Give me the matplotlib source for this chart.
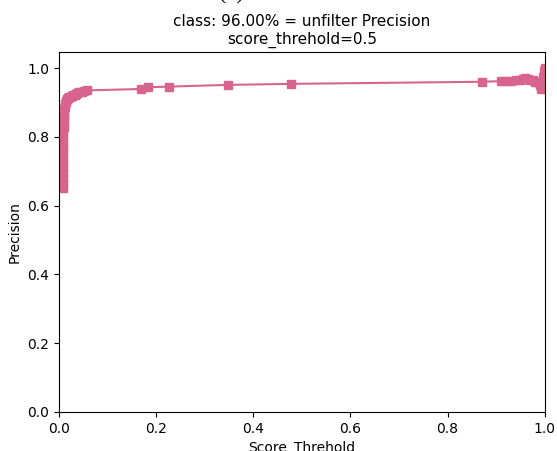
import numpy as np
import matplotlib.pyplot as plt

# score threshold vs precision for the class
thresholds = [0.008, 0.008, 0.008, 0.008, 0.008, 0.009, 0.009, 0.009, 0.009, 0.009,
              0.009, 0.009, 0.010, 0.010, 0.010, 0.011, 0.011, 0.012, 0.013, 0.014,
              0.015, 0.017, 0.019, 0.021, 0.023, 0.026, 0.029, 0.032, 0.035, 0.038,
              0.042, 0.047, 0.052, 0.058,
              0.168, 0.183, 0.226, 0.347, 0.478, 0.871,
              0.910, 0.920, 0.930, 0.940, 0.950, 0.955, 0.960, 0.965, 0.970, 0.975,
              0.980, 0.985, 0.990, 0.993, 0.996, 0.998, 1.000]
precision = [0.650, 0.665, 0.680, 0.695, 0.710, 0.725, 0.740, 0.755, 0.770, 0.785,
             0.800, 0.815, 0.830, 0.845, 0.858, 0.870, 0.880, 0.888, 0.895, 0.900,
             0.905, 0.909, 0.912, 0.915, 0.917, 0.919, 0.921, 0.923, 0.925, 0.927,
             0.929, 0.931, 0.933, 0.935,
             0.939, 0.944, 0.946, 0.951, 0.954, 0.960,
             0.962, 0.963, 0.962, 0.964, 0.966, 0.968, 0.970, 0.968, 0.966, 0.964,
             0.960, 0.958, 0.950, 0.940, 0.975, 0.990, 1.000]

fig = plt.figure(figsize=(5.57, 4.51), dpi=100)
ax = fig.add_axes([0.106, 0.0865, 0.872, 0.7985])

ax.plot(thresholds, precision, color='#d8638d', marker='s', markersize=6,
        linewidth=1.5)

ax.set_xlim(0, 1.0)
ax.set_ylim(0, 1.047)
ax.set_xticks([0.0, 0.2, 0.4, 0.6, 0.8, 1.0])
ax.set_yticks([0.0, 0.2, 0.4, 0.6, 0.8, 1.0])
ax.set_xlabel('Score_Threhold')
ax.set_ylabel('Precision')
ax.set_title('class: 96.00% = unfilter Precision\nscore_threhold=0.5', fontsize=11)

fig.text(0.415, 1.012, '(a)', fontsize=16, family='Liberation Serif',
         ha='center', va='center')

plt.savefig('out.png', dpi=100)
